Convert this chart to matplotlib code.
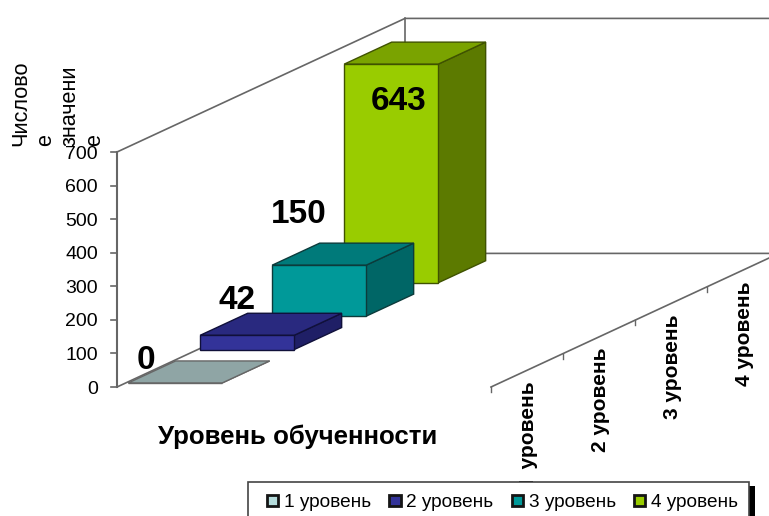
#!/usr/bin/env python3

import matplotlib
matplotlib.use("Agg")
import matplotlib.pyplot as plt
from matplotlib.patches import Patch, Polygon, Rectangle

plt.rcParams["font.family"] = ["Liberation Sans", "DejaVu Sans"]

series_names = ["1 уровень", "2 уровень", "3 уровень", "4 уровень"]
series_values = [0, 42, 150, 643]
front_colors = ["#a8bcbc", "#333399", "#009999", "#99cc00"]
top_colors = ["#8fa5a5", "#29297f", "#007a7a", "#7aa300"]
side_colors = ["#8fa5a5", "#1f1f66", "#006666", "#5c7a00"]
legend_colors = ["#b5dcdc", "#333399", "#009999", "#99cc00"]
y_ticks = [0, 100, 200, 300, 400, 500, 600, 700]

# oblique projection, everything below is in image pixels
x0, y0 = 117, 387
px_per_unit = 0.3357
bar_px_per_unit = 0.34  # bars come out a touch taller than the axis says
depth_dx, depth_dy = 72, -33.4
bar_left, bar_width = 2.5, 94
bar_offset, bar_depth = 0.12, 0.66
floor_width = 374

def proj(x, depth, val, scale=px_per_unit):
    return (x0 + x + depth * depth_dx, y0 + depth * depth_dy - val * scale)

def bar_proj(x, depth, val):
    return proj(x, depth, val, bar_px_per_unit)

fig = plt.figure(figsize=(7.69, 5.16), dpi=100)
ax = fig.add_axes([0, 0, 1, 1])
ax.set_xlim(0, 769)
ax.set_ylim(516, 0)
ax.axis("off")

wall_color = "#666666"
n_depth = len(series_names)
ymax = y_ticks[-1]

# walls and floor lines
ax.plot(*zip(proj(0, 0, ymax), proj(0, n_depth, ymax), (769, proj(0, n_depth, ymax)[1])), color=wall_color, lw=1.2)
ax.plot(*zip(proj(0, 0, 0), proj(0, n_depth, 0), (769, proj(0, n_depth, 0)[1])), color=wall_color, lw=1.2)
ax.plot(*zip(proj(0, n_depth, 0), proj(0, n_depth, ymax)), color=wall_color, lw=1.2)
ax.plot(*zip(proj(0, 0, 0), proj(0, 0, ymax)), color=wall_color, lw=1.5)
ax.plot(*zip(proj(floor_width, 0, 0), proj(floor_width, 3.88, 0)), color=wall_color, lw=1.2)

for v in y_ticks:
    x, y = proj(0, 0, v)
    ax.plot([x - 6, x], [y, y], color=wall_color, lw=1.2)
    ax.text(x - 19, y, str(v), ha="right", va="center_baseline", fontsize=14, color="black")

for i in range(n_depth):
    x, y = proj(floor_width, i, 0)
    ax.plot([x, x], [y, y + 5], color=wall_color, lw=1.0)
    xm, ym = proj(floor_width, i + 0.5, 0)
    ax.text(xm + 2, ym + 11, series_names[i], rotation=90, ha="center", va="top",
            fontsize=15, fontweight="bold", color="black")

# bars, back to front
edge_colors = ["#666666", "#10103a", "#0c3b3b", "#3f5200"]
label_offsets = [(18, -22), (37, -35), (27, -51), (54, 37)]
for i in range(n_depth - 1, -1, -1):
    v = series_values[i]
    d0 = i + bar_offset
    d1 = d0 + bar_depth
    xl, xr = bar_left, bar_left + bar_width
    style = dict(edgecolor=edge_colors[i], lw=1.0, zorder=3)
    ax.add_patch(Polygon([bar_proj(xr, d0, 0), bar_proj(xr, d1, 0), bar_proj(xr, d1, v), bar_proj(xr, d0, v)],
                         facecolor=side_colors[i], **style))
    ax.add_patch(Polygon([bar_proj(xl, d0, v), bar_proj(xr, d0, v), bar_proj(xr, d1, v), bar_proj(xl, d1, v)],
                         facecolor=top_colors[i], **style))
    ax.add_patch(Polygon([bar_proj(xl, d0, 0), bar_proj(xr, d0, 0), bar_proj(xr, d0, v), bar_proj(xl, d0, v)],
                         facecolor=front_colors[i], **style))
    xt, yt = bar_proj(xl, d0, v)
    dx, dy = label_offsets[i]
    ax.text(xt + dx, yt + dy, str(v), ha="center", va="center", fontsize=24,
            fontweight="bold", color="black", zorder=5)

ax.text(298, 437, "Уровень обученности", ha="center", va="center", fontsize=18.6,
        fontweight="bold", color="black")

ax.text(58, 146, "Числово\nе\nзначени\nе", rotation=90, ha="center", va="bottom", ma="left",
        fontsize=15.6, linespacing=1.23, color="black")

# white gap above the legend hides most of the "1" in the first axis label
ax.add_patch(Rectangle((505, 472.5), 60, 8, facecolor="white", edgecolor="none", zorder=6))

# legend box with a hard black shadow on the right
ax.add_patch(Rectangle((749, 486), 6, 34, facecolor="black", edgecolor="none", zorder=7))
ax.add_patch(Rectangle((248, 482), 501, 38, facecolor="white", edgecolor="#444444", lw=1.2, zorder=8))
handles = [Patch(facecolor=c, edgecolor="#151515", lw=2.0) for c in legend_colors]
leg = ax.legend(handles, series_names, ncols=4, loc="lower left", bbox_to_anchor=(267 / 769, 5 / 516),
                fontsize=13.7, frameon=False, handlelength=0.6, handleheight=0.5, handletextpad=0.3,
                columnspacing=0.95, borderaxespad=0, borderpad=0)
leg.set_zorder(9)

fig.savefig("out.png", dpi=100)
